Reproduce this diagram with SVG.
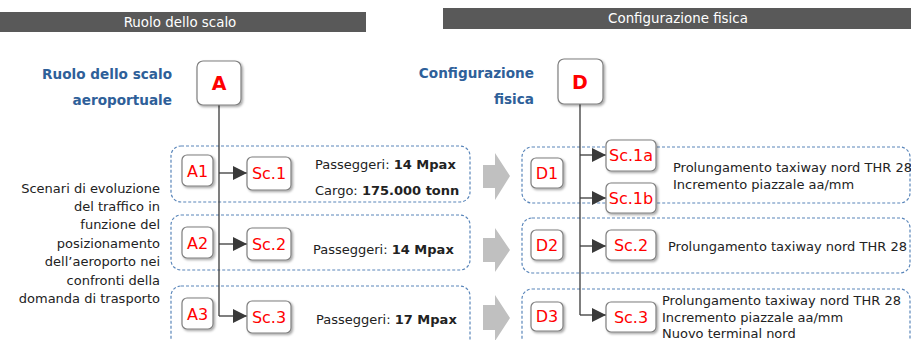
<svg xmlns="http://www.w3.org/2000/svg" width="911" height="340" viewBox="0 0 911 340">
<defs>
<filter id="sh" x="-30%" y="-30%" width="160%" height="160%">
<feDropShadow dx="1.5" dy="1.5" stdDeviation="1.2" flood-color="#000" flood-opacity="0.35"/>
</filter>
<marker id="ah" viewBox="0 0 10 10" refX="10" refY="5" markerWidth="14" markerHeight="14" markerUnits="userSpaceOnUse" orient="auto">
<path d="M0,0 L10,5 L0,10 Z" fill="#3a3a3a"/>
</marker>
</defs>
<style>
text{font-family:"DejaVu Sans","Verdana",sans-serif}
.hdr{fill:#595959}
.ht{fill:#fff;font-size:13.4px;text-anchor:middle}
.blue{fill:#2e6099;font-weight:bold;font-size:13.6px;text-anchor:end}
.big{fill:#fff;stroke:#7f7f7f;stroke-width:1.2;filter:url(#sh)}
.bigt{fill:#ff0000;font-weight:bold;font-size:19px;text-anchor:middle}
.bx{fill:#fff;stroke:#7f7f7f;stroke-width:1.2;filter:url(#sh)}
.bxt{fill:#ff0000;font-size:16px;text-anchor:middle}
.dash{fill:none;stroke:#5a86ba;stroke-width:1.2;stroke-dasharray:3 2}
.txt{fill:#222;font-size:13px}
.lt{fill:#222;font-size:13px;text-anchor:end}
.ln{fill:none;stroke:#3a3a3a;stroke-width:1.3}
.arr{fill:none;stroke:#3a3a3a;stroke-width:1.3;marker-end:url(#ah)}
.ga{fill:#c0c0c0}
</style>

<g id="header-left">
<rect class="hdr" x="0" y="12" width="366" height="20"/>
<text class="ht" x="180" y="27">Ruolo dello scalo</text>
</g>
<g id="header-right">
<rect class="hdr" x="443" y="8" width="468" height="21"/>
<text class="ht" x="678" y="23">Configurazione fisica</text>
</g>

<g id="label-a">
<text class="blue" x="172" y="79">Ruolo dello scalo</text>
<text class="blue" x="172" y="105">aeroportuale</text>
</g>
<g id="label-d">
<text class="blue" x="534" y="78">Configurazione</text>
<text class="blue" x="534" y="104">fisica</text>
</g>

<g id="scenari-text">
<text class="lt" x="160" y="193">Scenari di evoluzione</text>
<text class="lt" x="160" y="211">del traffico in</text>
<text class="lt" x="160" y="229">funzione del</text>
<text class="lt" x="160" y="248">posizionamento</text>
<text class="lt" x="160" y="266">dell’aeroporto nei</text>
<text class="lt" x="160" y="285">confronti della</text>
<text class="lt" x="160" y="303">domanda di trasporto</text>
</g>

<g id="groups">
<rect class="dash" x="171" y="146" width="299" height="56" rx="10"/>
<rect class="dash" x="171" y="215" width="299" height="55" rx="10"/>
<rect class="dash" x="171" y="286" width="299" height="64" rx="10"/>
<rect class="dash" x="522" y="147" width="388" height="56" rx="10"/>
<rect class="dash" x="522" y="218" width="388" height="55" rx="10"/>
<rect class="dash" x="522" y="289" width="388" height="61" rx="10"/>
</g>

<g id="big-arrows">
<path class="ga" d="M483,165 H495 V153 L510,176 L495,200 V188 H483 Z"/>
<path class="ga" d="M483,238 H495 V228 L510,250 L495,272 V262 H483 Z"/>
<path class="ga" d="M483,305 H495 V295 L510,318 L495,341 V330 H483 Z"/>
</g>

<g id="connectors">
<path class="ln" d="M219,105 V316"/>
<path class="arr" d="M219,173 H247"/>
<path class="arr" d="M219,244 H247"/>
<path class="arr" d="M219,316 H247"/>
<path class="ln" d="M580,104 V315"/>
<path class="arr" d="M580,155 H606"/>
<path class="arr" d="M580,198 H606"/>
<path class="arr" d="M580,246 H606"/>
<path class="arr" d="M580,315 H606"/>
</g>

<g id="node-A">
<rect class="big" x="197" y="61" width="44" height="44" rx="6"/>
<text class="bigt" x="219" y="90">A</text>
</g>
<g id="node-D">
<rect class="big" x="558" y="59" width="45" height="45" rx="6"/>
<text class="bigt" x="580" y="89">D</text>
</g>

<g id="node-A1">
<rect class="bx" x="182" y="155" width="31" height="31" rx="5"/>
<text class="bxt" x="197.5" y="177">A1</text>
</g>
<g id="node-A2">
<rect class="bx" x="182" y="227" width="31" height="31" rx="5"/>
<text class="bxt" x="197.5" y="249">A2</text>
</g>
<g id="node-A3">
<rect class="bx" x="182" y="298" width="31" height="31" rx="5"/>
<text class="bxt" x="197.5" y="320">A3</text>
</g>
<g id="node-Sc1">
<rect class="bx" x="247" y="157" width="44" height="33" rx="5"/>
<text class="bxt" x="269" y="179">Sc.1</text>
</g>
<g id="node-Sc2">
<rect class="bx" x="247" y="228" width="44" height="32" rx="5"/>
<text class="bxt" x="269" y="250">Sc.2</text>
</g>
<g id="node-Sc3">
<rect class="bx" x="247" y="301" width="44" height="32" rx="5"/>
<text class="bxt" x="269" y="323">Sc.3</text>
</g>

<g id="desc-A">
<text class="txt" x="315" y="169">Passeggeri: <tspan font-weight="bold">14 Mpax</tspan></text>
<text class="txt" x="315" y="195">Cargo: <tspan font-weight="bold">175.000 tonn</tspan></text>
<text class="txt" x="313" y="254">Passeggeri: <tspan font-weight="bold">14 Mpax</tspan></text>
<text class="txt" x="316" y="324">Passeggeri: <tspan font-weight="bold">17 Mpax</tspan></text>
</g>

<g id="node-D1">
<rect class="bx" x="531" y="158" width="32" height="30" rx="5"/>
<text class="bxt" x="547" y="179">D1</text>
</g>
<g id="node-D2">
<rect class="bx" x="531" y="230" width="32" height="30" rx="5"/>
<text class="bxt" x="547" y="251">D2</text>
</g>
<g id="node-D3">
<rect class="bx" x="531" y="302" width="32" height="29" rx="5"/>
<text class="bxt" x="547" y="322">D3</text>
</g>
<g id="node-Sc1a">
<rect class="bx" x="606" y="140" width="50" height="31" rx="5"/>
<text class="bxt" x="631" y="161">Sc.1a</text>
</g>
<g id="node-Sc1b">
<rect class="bx" x="606" y="183" width="50" height="30" rx="5"/>
<text class="bxt" x="631" y="204">Sc.1b</text>
</g>
<g id="node-Sc2d">
<rect class="bx" x="606" y="230" width="50" height="30" rx="5"/>
<text class="bxt" x="631" y="251">Sc.2</text>
</g>
<g id="node-Sc3d">
<rect class="bx" x="606" y="302" width="50" height="30" rx="5"/>
<text class="bxt" x="631" y="323">Sc.3</text>
</g>

<g id="desc-D">
<text class="txt" x="673" y="172">Prolungamento taxiway nord THR 28</text>
<text class="txt" x="673" y="189">Incremento piazzale aa/mm</text>
<text class="txt" x="668" y="251">Prolungamento taxiway nord THR 28</text>
<text class="txt" x="662" y="305">Prolungamento taxiway nord THR 28</text>
<text class="txt" x="662" y="322">Incremento piazzale aa/mm</text>
<text class="txt" x="662" y="338">Nuovo terminal nord</text>
</g>
</svg>
